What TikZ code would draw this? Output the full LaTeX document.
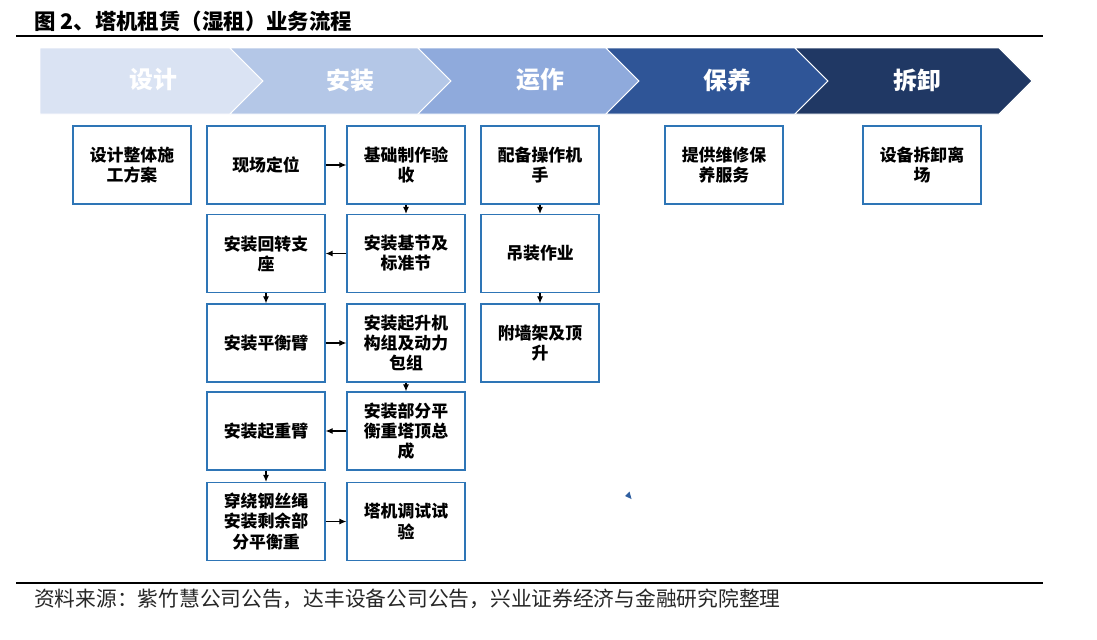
\documentclass[tikz,border=0pt]{standalone}
\usepackage{fontspec}
\setmainfont{Noto Sans CJK SC}
\newfontfamily\cjk{Noto Sans CJK SC}
\usepackage{xcolor}
\usepackage{tikz}
\usetikzlibrary{arrows.meta}
\usetikzlibrary{positioning}
\definecolor{boxblue}{RGB}{46,117,182}
\definecolor{stepA}{RGB}{218,227,243}
\definecolor{stepB}{RGB}{180,199,231}
\definecolor{stepC}{RGB}{143,170,220}
\definecolor{stepD}{RGB}{47,85,151}
\definecolor{stepE}{RGB}{32,56,100}
\tikzstyle{line} = [draw, line width=0.6pt, -{Latex[length=4pt,width=3.4pt]}]

\begin{document}
\begin{tikzpicture}[x=0.02cm,y=-0.02cm,
      box/.style={draw=boxblue,
      line width=0.7pt,
      rectangle,
      fill=white,
      minimum width=2.36cm,
      minimum height=1.56cm,
      inner sep=1pt,
      align=center,
      font={\cjk\bfseries\fontsize{9.6}{11.4}\selectfont}},
      phase/.style={text=white,
      font={\cjk\bfseries\fontsize{13.6}{16}\selectfont}}]
    \useasboundingbox (0,0) rectangle (1097,639);
    %% Title
    \node [anchor=west, font={\cjk\bfseries\fontsize{12.2}{14}\selectfont}] at (28,21) (Title) {图 2、塔机租赁（湿租）业务流程};
    \draw [line width=1.2pt] (16,36) -- (1043,36);
    %% Phases
    \path [fill=stepA, draw=white, line width=0.5pt] (40,48) -- (230,48) -- (263,81) -- (230,114) -- (40,114) -- cycle;
    \path [fill=stepB, draw=white, line width=0.5pt] (230,48) -- (418,48) -- (451,81) -- (418,114) -- (230,114) -- (263,81) -- cycle;
    \path [fill=stepC, draw=white, line width=0.5pt] (418,48) -- (606,48) -- (639,81) -- (606,114) -- (418,114) -- (451,81) -- cycle;
    \path [fill=stepD, draw=white, line width=0.5pt] (606,48) -- (795,48) -- (828,81) -- (795,114) -- (606,114) -- (639,81) -- cycle;
    \path [fill=stepE, draw=white, line width=0.5pt] (795,48) -- (999,48) -- (1032,81) -- (999,114) -- (795,114) -- (828,81) -- cycle;
    \node [phase] at (153,80) (P_design) {设计};
    \node [phase] at (350,80) (P_install) {安装};
    \node [phase] at (540,80) (P_run) {运作};
    \node [phase] at (727,80) (P_care) {保养};
    \node [phase] at (917,80) (P_remove) {拆卸};
    %% Design
    \node [box] at (132,165) (Plan) {设计整体施\\工方案};
    %% Installation, left column
    \node [box] at (266,165) (Site) {现场定位};
    \node [box] at (266,253.5) (Slew) {安装回转支\\座};
    \node [box] at (266,343) (CJib) {安装平衡臂};
    \node [box] at (266,431) (Jib) {安装起重臂};
    \node [box] at (266,521.5) (Rope) {穿绕钢丝绳\\安装剩余部\\分平衡重};
    %% Installation, right column
    \node [box] at (406,165) (Base) {基础制作验\\收};
    \node [box] at (406,253.5) (Mast) {安装基节及\\标准节};
    \node [box] at (406,343) (Hoist) {安装起升机\\构组及动力\\包组};
    \node [box] at (406,431) (Top) {安装部分平\\衡重塔顶总\\成};
    \node [box] at (406,521.5) (Test) {塔机调试试\\验};
    %% Operation
    \node [box] at (540,165) (Crew) {配备操作机\\手};
    \node [box] at (540,253.5) (Lift) {吊装作业};
    \node [box] at (540,343) (Wall) {附墙架及顶\\升};
    %% Maintenance, removal
    \node [box] at (724,165) (Service) {提供维修保\\养服务};
    \node [box] at (922,165) (Remove) {设备拆卸离\\场};
    %%
    %% Installation steps
    \path [line] (Site) -- (Base);
    \path [line] (Base) -- (Mast);
    \path [line] (Mast) -- (Slew);
    \path [line] (Slew) -- (CJib);
    \path [line] (CJib) -- (Hoist);
    \path [line] (Hoist) -- (Top);
    \path [line] (Top) -- (Jib);
    \path [line] (Jib) -- (Rope);
    \path [line] (Rope) -- (Test);
    %% Operation steps
    \path [line] (Crew) -- (Lift);
    \path [line] (Lift) -- (Wall);
    %% stray mark
    \fill [stepD!70!boxblue] (625,496) -- (629.5,491.5) -- (631.5,499) -- cycle;
    %% Source
    \draw [line width=1.2pt] (16,583) -- (1043,583);
    \node [anchor=west, text=black!85, font={\cjk\fontsize{11.8}{14}\selectfont}] at (28,599) (Source) {资料来源：紫竹慧公司公告，达丰设备公司公告，兴业证券经济与金融研究院整理};
  \end{tikzpicture}
\end{document}
